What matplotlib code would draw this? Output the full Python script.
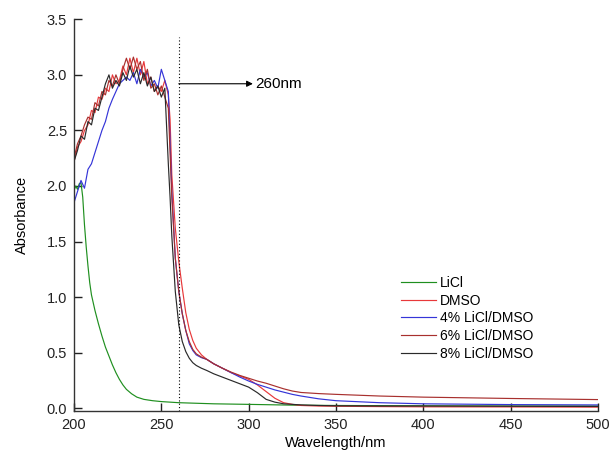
import numpy as np
import matplotlib
matplotlib.use("Agg")
import matplotlib.pyplot as plt

plt.rcParams['font.family'] = ['Liberation Sans', 'DejaVu Sans']

# wavelength grid (nm): dense over the noisy peak, sparse over the tail
wl = [200, 202, 204, 206, 208, 210, 212, 214, 216, 218, 220, 222, 224, 226,
      228, 230, 232, 234, 236, 238, 240, 242, 244, 246, 248, 250, 252, 254,
      255, 256, 258, 260, 262, 264, 266, 268, 270, 273, 276, 280, 285, 290,
      295, 300, 305, 310, 315, 320, 325, 330, 340, 350, 375, 400, 450, 500]

dmso = [2.22, 2.35, 2.40, 2.50, 2.55, 2.68, 2.66, 2.80, 2.78, 2.88, 2.85, 3.00, 2.92, 2.95,
        3.08, 3.00, 3.15, 3.02, 3.15, 3.00, 3.12, 2.92, 2.98, 2.85, 2.90, 2.85, 2.95, 2.82,
        2.60, 2.10, 1.62, 1.32, 1.08, 0.86, 0.71, 0.61, 0.54, 0.48, 0.44, 0.40, 0.36, 0.32,
        0.29, 0.26, 0.21, 0.15, 0.09, 0.05, 0.035, 0.025, 0.02, 0.018, 0.015, 0.013, 0.012, 0.01]

licl4 = [1.85, 1.95, 2.05, 1.98, 2.15, 2.20, 2.30, 2.40, 2.50, 2.58, 2.70, 2.78, 2.85, 2.92,
         2.95, 2.98, 2.95, 3.02, 2.92, 3.05, 2.98, 3.02, 2.90, 2.95, 2.88, 3.05, 2.95, 2.85,
         2.40, 1.95, 1.35, 1.05, 0.85, 0.70, 0.58, 0.52, 0.48, 0.455, 0.44, 0.40, 0.36, 0.32,
         0.28, 0.245, 0.215, 0.19, 0.165, 0.145, 0.125, 0.11, 0.085, 0.068, 0.05, 0.04, 0.033, 0.03]

licl6 = [2.25, 2.38, 2.45, 2.55, 2.62, 2.60, 2.75, 2.72, 2.85, 2.82, 2.95, 2.90, 3.00, 2.92,
         3.05, 3.15, 3.05, 3.16, 3.05, 3.12, 2.95, 3.05, 2.88, 2.92, 2.82, 2.90, 2.80, 2.70,
         2.30, 1.90, 1.35, 1.05, 0.85, 0.70, 0.60, 0.53, 0.49, 0.46, 0.44, 0.40, 0.36, 0.325,
         0.295, 0.27, 0.245, 0.225, 0.20, 0.175, 0.155, 0.142, 0.132, 0.125, 0.11, 0.10, 0.088, 0.078]

licl8 = [2.22, 2.32, 2.45, 2.42, 2.58, 2.55, 2.70, 2.68, 2.80, 2.92, 3.00, 2.88, 2.95, 2.90,
         3.02, 2.95, 3.08, 2.98, 3.05, 2.92, 3.02, 2.90, 2.98, 2.85, 2.90, 2.80, 2.88, 2.20,
         1.90, 1.55, 1.05, 0.75, 0.60, 0.51, 0.45, 0.41, 0.385, 0.36, 0.34, 0.31, 0.28, 0.25,
         0.22, 0.19, 0.14, 0.08, 0.055, 0.04, 0.035, 0.03, 0.025, 0.022, 0.02, 0.02, 0.018, 0.016]

wl_licl = [200, 201, 202, 203, 204, 205, 206, 207, 208, 209, 210, 212, 214, 216, 218, 220,
           222, 224, 226, 228, 230, 233, 236, 240, 245, 250, 260, 280, 300, 325, 350, 400, 450, 500]
licl = [1.96, 2.00, 1.97, 2.02, 2.03, 1.90, 1.65, 1.45, 1.28, 1.13, 1.02, 0.88, 0.76, 0.65, 0.55, 0.47,
        0.39, 0.32, 0.26, 0.21, 0.17, 0.13, 0.10, 0.08, 0.068, 0.06, 0.05, 0.04, 0.035, 0.028, 0.025, 0.022, 0.02, 0.02]

fig = plt.figure(figsize=(6.1, 4.62), dpi=100)
ax = fig.add_axes([74/610, 1-410.7/462, 524/610, 391.4/462])

lw = 0.85
ax.plot(wl_licl, licl, color='#1f8f1f', lw=lw, label='LiCl')
ax.plot(wl, dmso, color='#e8383a', lw=lw, label='DMSO')
ax.plot(wl, licl4, color='#3535d8', lw=lw, label='4% LiCl/DMSO')
ax.plot(wl, licl6, color='#a8302e', lw=lw, label='6% LiCl/DMSO')
ax.plot(wl, licl8, color='#2a2a2a', lw=lw, label='8% LiCl/DMSO')

# marker at 260 nm
ax.plot([260, 260], [-0.022, 3.34], color='k', lw=0.8, linestyle=(0, (1, 2)))
ax.annotate('260nm', xy=(260, 2.92), xytext=(304, 2.92), fontsize=11, va='center',
            arrowprops=dict(arrowstyle='<|-', color='k', lw=0.8, mutation_scale=9,
                            shrinkA=0, shrinkB=0))

ax.set_xlim(200, 500)
ax.set_ylim(-0.022, 3.5)
ax.set_xticks(np.arange(200, 501, 50))
ax.set_yticks(np.arange(0, 3.51, 0.5))
ax.set_yticklabels(['%.1f' % v for v in np.arange(0, 3.51, 0.5)])
ax.tick_params(direction='in', length=6, width=1, labelsize=10.5, pad=5, colors='#222222')
for s in ['top', 'right']:
    ax.spines[s].set_visible(False)
for s in ['left', 'bottom']:
    ax.spines[s].set_linewidth(1)
    ax.spines[s].set_color('#333333')

ax.set_xlabel('Wavelength/nm', fontsize=10.5, labelpad=3)
ax.set_ylabel('Absorbance', fontsize=10.5, labelpad=13)

ax.legend(loc='upper left', bbox_to_anchor=(0.624, 0.344), frameon=False, fontsize=10,
          handlelength=2.5, handletextpad=0.3, labelspacing=0.26, borderpad=0, borderaxespad=0)

fig.savefig('out.png', dpi=100)
